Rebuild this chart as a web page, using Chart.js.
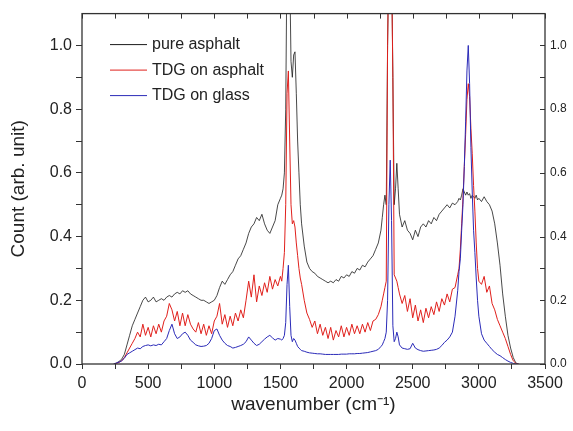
<!DOCTYPE html>
<html>
<head>
<meta charset="utf-8">
<script src="https://cdn.jsdelivr.net/npm/chart.js@4.4.1/dist/chart.umd.min.js"></script>
<style>
  html, body { margin: 0; padding: 0; background: #fff; }
</style>
</head>
<body>
<canvas id="spectrum" width="573" height="431"></canvas>
<script>
// wavenumber axis (cm-1), denser around the sharp bands
const wavenumbers = [
  240, 260, 280, 300, 320, 340, 360, 380, 400, 420,
  440, 460, 480, 500, 520, 540, 560, 580, 600, 620,
  640, 660, 680, 700, 720, 740, 760, 780, 800, 820,
  840, 860, 880, 900, 920, 940, 960, 980, 1000, 1020,
  1040, 1060, 1080, 1100, 1120, 1140, 1160, 1180, 1200, 1220,
  1240, 1260, 1280, 1300, 1320, 1340, 1360, 1380, 1400, 1420,
  1440, 1460, 1480, 1500,
  1510, 1520, 1530, 1540, 1550, 1560, 1570, 1580, 1590, 1600, 1610, 1620, 1630, 1640, 1650, 1660,
  1680, 1700, 1720, 1740, 1760, 1780, 1800, 1820, 1840, 1860,
  1880, 1900, 1920, 1940, 1960, 1980, 2000, 2020, 2040, 2060,
  2080, 2100, 2120, 2140, 2160, 2180, 2200, 2220, 2240, 2260,
  2270, 2280, 2290, 2300, 2310, 2320, 2330, 2340, 2350, 2360, 2370, 2380, 2390, 2400,
  2420, 2440, 2460, 2480, 2500, 2520, 2540, 2560, 2580, 2600,
  2620, 2640, 2660, 2680, 2700, 2720, 2740, 2760, 2780, 2800,
  2820, 2840,
  2850, 2860, 2870, 2880, 2890, 2900, 2910, 2920, 2930, 2940, 2950, 2960, 2970, 2980, 2990, 3000,
  3020, 3040, 3060, 3080, 3100, 3120, 3140, 3160, 3180, 3200, 3220, 3240, 3260, 3280, 3300
];

const pureAsphalt = [
  0, 0.003, 0.008, 0.015, 0.03, 0.06, 0.09, 0.12, 0.14, 0.16,
  0.18, 0.2, 0.21, 0.195, 0.2, 0.21, 0.195, 0.2, 0.205, 0.2,
  0.21, 0.215, 0.21, 0.22, 0.225, 0.22, 0.23, 0.225, 0.23, 0.22,
  0.215, 0.21, 0.205, 0.2, 0.2, 0.195, 0.19, 0.195, 0.2, 0.215,
  0.24, 0.26, 0.25, 0.265, 0.28, 0.29, 0.31, 0.33, 0.34, 0.36,
  0.38, 0.41, 0.43, 0.44, 0.46, 0.45, 0.47, 0.44, 0.42, 0.41,
  0.43, 0.45, 0.5, 0.52,
  0.53, 0.55, 0.6, 0.8, 1.3, 1.4, 1.25, 0.95, 0.9, 0.97, 0.98, 0.85, 0.7, 0.6, 0.5, 0.44,
  0.37, 0.32, 0.3, 0.29, 0.285, 0.275, 0.27, 0.265, 0.26, 0.255,
  0.26, 0.255, 0.265, 0.26, 0.275, 0.27, 0.28, 0.275, 0.29, 0.285,
  0.3, 0.295, 0.31, 0.305, 0.32, 0.33, 0.34, 0.36, 0.38, 0.42,
  0.46, 0.5, 0.53, 0.5, 1.0, 1.3, 1.4, 1.3, 0.9, 0.5, 0.55, 0.63, 0.55, 0.47,
  0.43, 0.45, 0.42, 0.41, 0.39, 0.42, 0.4, 0.43, 0.44, 0.43,
  0.45, 0.44, 0.46, 0.45, 0.47, 0.48, 0.49, 0.5, 0.49, 0.505,
  0.5, 0.51,
  0.52, 0.515, 0.53, 0.55, 0.54, 0.53, 0.54, 0.53, 0.535, 0.52, 0.53, 0.525, 0.52, 0.53, 0.515, 0.52,
  0.51, 0.525, 0.51, 0.5, 0.48, 0.44, 0.38, 0.31, 0.22, 0.15, 0.09, 0.05, 0.02, 0.003, 0
];

const tdgOnAsphalt = [
  0, 0.002, 0.005, 0.01, 0.02, 0.035, 0.05, 0.065, 0.08, 0.1,
  0.085, 0.125, 0.09, 0.115, 0.085, 0.12, 0.095, 0.125, 0.1, 0.135,
  0.15, 0.19, 0.17, 0.135, 0.165, 0.12, 0.16, 0.12, 0.155, 0.125,
  0.11, 0.1, 0.13, 0.095, 0.125, 0.09, 0.12, 0.095, 0.135, 0.15,
  0.19, 0.125, 0.155, 0.115, 0.15, 0.12, 0.16, 0.135, 0.17, 0.145,
  0.2, 0.26, 0.21, 0.28, 0.195, 0.245, 0.215, 0.255, 0.225, 0.275,
  0.235, 0.265, 0.245, 0.275,
  0.26, 0.3, 0.35, 0.5, 0.85, 0.92, 0.7, 0.5, 0.44, 0.45, 0.43, 0.38, 0.34, 0.3, 0.27, 0.25,
  0.2, 0.16, 0.14, 0.115, 0.135, 0.095, 0.125, 0.09, 0.115, 0.08,
  0.115, 0.075, 0.105, 0.085, 0.12, 0.085, 0.115, 0.09, 0.125, 0.095,
  0.12, 0.095, 0.125, 0.1, 0.13, 0.105, 0.135, 0.14, 0.155, 0.18,
  0.2, 0.22, 0.24, 0.26, 1.0, 1.3, 1.4, 1.25, 0.9, 0.28, 0.27, 0.26, 0.24, 0.22,
  0.19, 0.215, 0.165, 0.205, 0.145, 0.185, 0.135, 0.17, 0.13, 0.175,
  0.145, 0.18, 0.155, 0.195, 0.165, 0.205, 0.185, 0.22, 0.195, 0.235,
  0.24, 0.28,
  0.3, 0.36, 0.44, 0.52, 0.62, 0.72, 0.83, 0.88, 0.84, 0.74, 0.66, 0.56, 0.48, 0.38, 0.3, 0.26,
  0.25, 0.275, 0.225, 0.245, 0.19, 0.17, 0.14, 0.12, 0.1, 0.08, 0.055, 0.03, 0.01, 0.002, 0
];

const tdgOnGlass = [
  0, 0.003, 0.006, 0.01, 0.018, 0.03, 0.035, 0.04, 0.045, 0.05,
  0.048, 0.055, 0.058, 0.06, 0.057, 0.06, 0.058, 0.062, 0.06, 0.07,
  0.08, 0.105, 0.125, 0.095, 0.08, 0.085, 0.095, 0.1, 0.09, 0.075,
  0.068, 0.06, 0.057, 0.055, 0.056, 0.058, 0.065, 0.08, 0.105, 0.11,
  0.09, 0.075, 0.065, 0.058, 0.055, 0.05, 0.052, 0.055, 0.058, 0.062,
  0.07, 0.085, 0.075, 0.065, 0.058, 0.062, 0.07, 0.078, 0.085, 0.09,
  0.082, 0.075, 0.08, 0.078,
  0.075, 0.08, 0.09, 0.13, 0.25, 0.31, 0.18, 0.09, 0.07, 0.08, 0.075, 0.065, 0.055, 0.05, 0.046, 0.042,
  0.04, 0.037, 0.035, 0.034, 0.033, 0.032, 0.032, 0.031, 0.03, 0.03,
  0.03, 0.03, 0.03, 0.03, 0.031, 0.031, 0.031, 0.032, 0.032, 0.032,
  0.033, 0.033, 0.034, 0.035, 0.036, 0.038, 0.04, 0.042, 0.046, 0.055,
  0.06, 0.07, 0.08, 0.1, 0.2, 0.5, 0.64, 0.45, 0.12, 0.07, 0.08, 0.1, 0.085, 0.06,
  0.05, 0.048, 0.046, 0.048, 0.065, 0.05, 0.045, 0.042, 0.04, 0.041,
  0.042, 0.043, 0.044, 0.046, 0.05, 0.058, 0.068, 0.075, 0.085, 0.1,
  0.15, 0.23,
  0.29, 0.33, 0.42, 0.5, 0.62, 0.76, 0.92, 1.0, 0.88, 0.68, 0.54, 0.42, 0.35, 0.27, 0.2, 0.15,
  0.095, 0.075, 0.065, 0.055, 0.045, 0.037, 0.03, 0.026, 0.02, 0.014, 0.009, 0.005, 0.002, 0, 0
];

const seriesLabels = ['pure asphalt', 'TDG on asphalt', 'TDG on glass'];
const seriesColors = ['#1a1a1a', '#e0201c', '#2b2bb8'];

const xTicks = [0, 250, 500, 750, 1000, 1250, 1500, 1750, 2000, 2250, 2500, 2750, 3000, 3250, 3500];
const xTickLabels = ['0', '', '500', '', '1000', '', '1500', '', '2000', '', '2500', '', '3000', '', '3500'];
const yTicks = [0, 0.1, 0.2, 0.3, 0.4, 0.5, 0.6, 0.7, 0.8, 0.9, 1.0];
const yTickLabels = ['0.0', '', '0.2', '', '0.4', '', '0.6', '', '0.8', '', '1.0'];

const FONT = '"Liberation Sans", Arial, sans-serif';
const INK = '#222';

function toPoints(ys) {
  return wavenumbers.map((x, i) => ({ x: x, y: ys[i] }));
}

// inward ticks on top/right, frame and the in-plot legend
const frameAndLegend = {
  id: 'frameAndLegend',
  afterDatasetsDraw(chart) {
    const { ctx, chartArea: a, scales } = chart;
    ctx.save();
    ctx.strokeStyle = '#333';
    ctx.lineWidth = 1;
    ctx.beginPath();
    xTicks.forEach(v => {
      const px = Math.round(scales.x.getPixelForValue(v)) + 0.5;
      ctx.moveTo(px, a.top);
      ctx.lineTo(px, a.top + 5);
    });
    yTicks.forEach(v => {
      const py = Math.round(scales.y2.getPixelForValue(v)) + 0.5;
      ctx.moveTo(a.right, py);
      ctx.lineTo(a.right - 5, py);
    });
    ctx.stroke();

    ctx.lineWidth = 1.3;
    ctx.strokeRect(a.left, a.top, a.right - a.left, a.bottom - a.top);

    // legend
    ctx.font = '16px ' + FONT;
    ctx.textBaseline = 'middle';
    ctx.fillStyle = INK;
    chart.data.datasets.forEach((ds, i) => {
      const y = a.top + 31 + i * 25.5;
      ctx.strokeStyle = ds.borderColor;
      ctx.lineWidth = 1;
      ctx.beginPath();
      ctx.moveTo(a.left + 28, y);
      ctx.lineTo(a.left + 65, y);
      ctx.stroke();
      ctx.fillText(ds.label, a.left + 70, y);
    });
    ctx.restore();
  }
};

new Chart(document.getElementById('spectrum'), {
  type: 'line',
  data: {
    datasets: [
      { label: seriesLabels[0], data: toPoints(pureAsphalt), borderColor: seriesColors[0], borderWidth: 0.8, order: 2 },
      { label: seriesLabels[1], data: toPoints(tdgOnAsphalt), borderColor: seriesColors[1], borderWidth: 1, order: 1 },
      { label: seriesLabels[2], data: toPoints(tdgOnGlass), borderColor: seriesColors[2], borderWidth: 1, order: 0 }
    ]
  },
  options: {
    responsive: false,
    animation: false,
    devicePixelRatio: 1,
    layout: { padding: { top: 8, left: 0, right: 0, bottom: 0 } },
    elements: { point: { radius: 0 }, line: { tension: 0 } },
    plugins: { legend: { display: false }, tooltip: { enabled: false } },
    scales: {
      x: {
        type: 'linear',
        min: 0,
        max: 3500,
        afterBuildTicks: s => { s.ticks = xTicks.map(v => ({ value: v })); },
        afterFit: s => { s.height = 67; },
        border: { display: false },
        grid: { drawOnChartArea: false, tickLength: 5, color: '#333' },
        ticks: {
          autoSkip: false,
          maxRotation: 0,
          padding: 5,
          color: INK,
          font: { family: FONT, size: 16 },
          callback: (v, i) => xTickLabels[i]
        },
        title: {
          display: true,
          text: 'wavenumber (cm⁻¹)',
          color: INK,
          font: { family: FONT, size: 19 },
          padding: { top: 0, bottom: 15 }
        }
      },
      y: {
        position: 'left',
        min: 0,
        max: 1.1,
        afterBuildTicks: s => { s.ticks = yTicks.map(v => ({ value: v })); },
        afterFit: s => { s.width = 82; },
        border: { display: false },
        grid: { drawOnChartArea: false, tickLength: 6, color: '#333' },
        ticks: {
          padding: 4,
          color: INK,
          font: { family: FONT, size: 16 },
          callback: (v, i) => yTickLabels[i]
        },
        title: {
          display: true,
          text: 'Count (arb. unit)',
          color: INK,
          font: { family: FONT, size: 19 },
          padding: { top: 7, bottom: 0 }
        }
      },
      y2: {
        position: 'right',
        min: 0,
        max: 1.1,
        afterBuildTicks: s => { s.ticks = yTicks.map(v => ({ value: v })); },
        afterFit: s => { s.width = 28; },
        border: { display: false },
        grid: { display: false, drawTicks: false },
        ticks: {
          padding: 5,
          color: INK,
          font: { family: FONT, size: 12 },
          callback: (v, i) => yTickLabels[i]
        }
      }
    }
  },
  plugins: [frameAndLegend]
});
</script>
</body>
</html>
